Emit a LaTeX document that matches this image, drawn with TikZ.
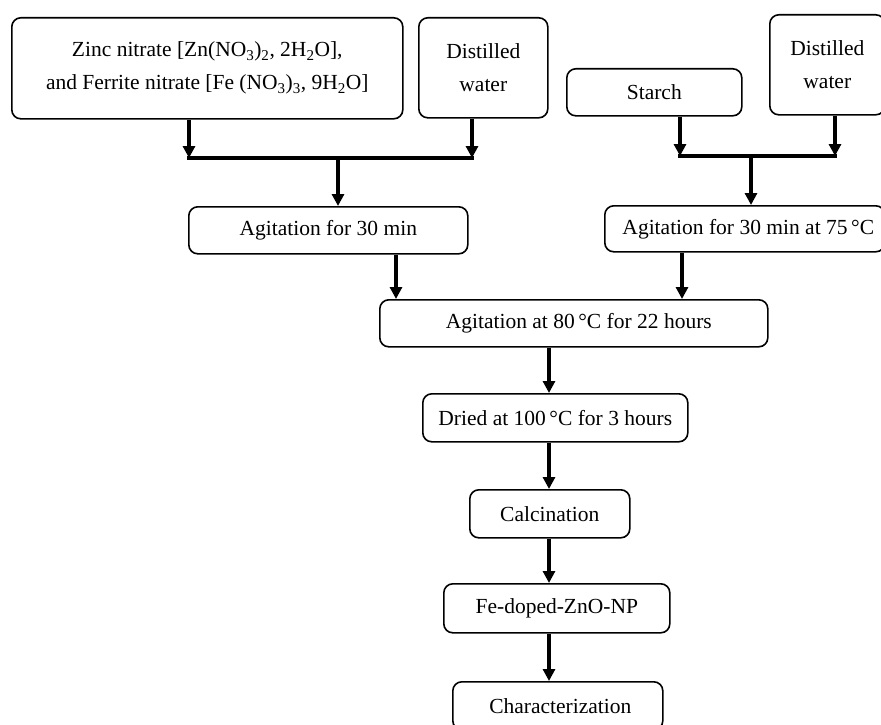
\documentclass[tikz,border=0pt]{standalone}
\usepackage{fontspec}
\setmainfont{Liberation Serif}
\usetikzlibrary{arrows.meta}
\tikzset{
  box/.style={draw, line width=1.6pt, rounded corners=9pt, inner sep=0pt, anchor=north west, align=center,
    font=\fontsize{21.5}{33}\selectfont},
  arr/.style={line width=4pt, -{Triangle[length=12pt,width=12pt]}},
  joint/.style={line width=4pt, line cap=rect},
}
\begin{document}
\begin{tikzpicture}[x=1pt,y=-1pt]
\useasboundingbox (0,0) rectangle (881,725);
% top left group
\node[box, minimum width=391pt, minimum height=101pt] (zinc) at (11,17)
  {Zinc nitrate [Zn(NO\textsubscript{3})\textsubscript{2}, 2H\textsubscript{2}O],\\and Ferrite nitrate [Fe (NO\textsubscript{3})\textsubscript{3}, 9H\textsubscript{2}O]};
\node[box, minimum width=129pt, minimum height=100pt] (dw1) at (418,17) {Distilled\\water};
% top right group
\node[box, minimum width=175pt, minimum height=47pt] (starch) at (566,68) {Starch};
\node[box, minimum width=115pt, minimum height=100pt] (dw2) at (769,14) {Distilled\\water};
% second row
\node[box, minimum width=279pt, minimum height=47pt] (ag30) at (188,206) {Agitation for 30 min};
\node[box, minimum width=280pt, minimum height=46pt] (ag75) at (604,205) {\hspace*{7pt}Agitation for 30 min at 75\,°C};
% chain
\node[box, minimum width=388pt, minimum height=47pt] (ag80) at (379,299) {\hspace*{10pt}Agitation at 80\,°C for 22 hours};
\node[box, minimum width=265pt, minimum height=48pt] (dried) at (422,393) {Dried at 100\,°C for 3 hours};
\node[box, minimum width=160pt, minimum height=48pt] (calc) at (469,489) {Calcination};
\node[box, minimum width=226pt, minimum height=49pt] (fe) at (443,583) {Fe-doped-ZnO-NP};
\node[box, minimum width=210pt, minimum height=48pt] (char) at (452,681) {\hspace*{5pt}Characterization};
% junction coordinates
\coordinate (jL1) at (189,158);
\coordinate (jR1) at (472,158);
\coordinate (jM1) at (338,158);
\coordinate (jL2) at (680,156);
\coordinate (jR2) at (835,156);
\coordinate (jM2) at (751,156);
\coordinate (xa) at (396,0);
\coordinate (xb) at (682,0);
\coordinate (xc) at (549,0);
% left merge
\draw[arr] (zinc.south -| jL1) -- (jL1);
\draw[arr] (dw1.south -| jR1) -- (jR1);
\draw[joint] (jL1) -- (jR1);
\draw[arr] (jM1) -- (ag30.north -| jM1);
% right merge
\draw[arr] (starch.south -| jL2) -- (jL2);
\draw[arr] (dw2.south -| jR2) -- (jR2);
\draw[joint] (jL2) -- (jR2);
\draw[arr] (jM2) -- (ag75.north -| jM2);
% into ag80
\draw[arr] (ag30.south -| xa) -- (ag80.north -| xa);
\draw[arr] (ag75.south -| xb) -- (ag80.north -| xb);
% chain
\draw[arr] (ag80.south -| xc) -- (dried.north -| xc);
\draw[arr] (dried.south -| xc) -- (calc.north -| xc);
\draw[arr] (calc.south -| xc) -- (fe.north -| xc);
\draw[arr] (fe.south -| xc) -- (char.north -| xc);
\end{tikzpicture}
\end{document}
